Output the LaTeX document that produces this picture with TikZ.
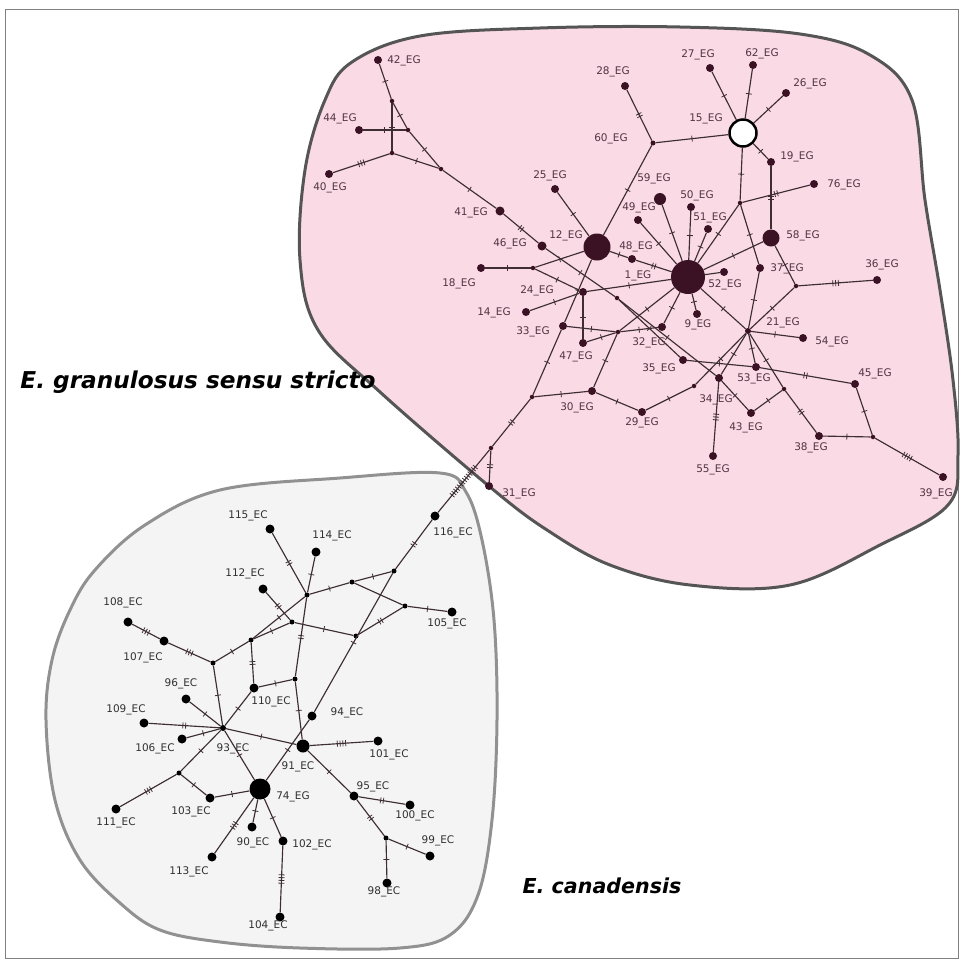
\documentclass[tikz,border=0pt]{standalone}
\usepackage{fontspec}
\setmainfont{DejaVu Sans}
\usetikzlibrary{decorations.markings}

\definecolor{egpink}{RGB}{249,218,229}
\definecolor{egborder}{RGB}{85,85,85}
\definecolor{ecgray}{RGB}{244,244,244}
\definecolor{ecborder}{RGB}{145,145,145}
\definecolor{egnode}{RGB}{58,18,36}
\definecolor{netline}{RGB}{62,46,52}
\definecolor{egtext}{RGB}{82,52,66}
\definecolor{ectext}{RGB}{48,48,48}

\begin{document}
\begin{tikzpicture}[
  x=1pt, y=-1pt,
  eg/.style={circle, fill=egnode, inner sep=0pt, minimum size=#1},
  eg/.default=8pt,
  mv/.style={circle, fill=egnode, inner sep=0pt, minimum size=4.5pt},
  ec/.style={circle, fill=black, inner sep=0pt, minimum size=#1},
  ec/.default=9pt,
  ecmv/.style={circle, fill=black, inner sep=0pt, minimum size=5pt},
  lab/.style={inner sep=0pt, text=egtext, font=\fontsize{10.5}{12}\selectfont},
  eclab/.style={lab, text=ectext},
  region/.style={line width=3pt, line join=round},
  link/.style={draw=netline, line width=1.15pt},
  mut/.style={postaction={draw=none, decorate, decoration={markings,
    mark=at position 0.5 with {\foreach \k in {1,...,#1}
      {\draw[netline, line width=0.8pt] ({(\k-(#1+1)/2)*2.8pt},-3pt) -- ++(0pt,6pt);}}}}},
  species/.style={inner sep=0pt, text=black, font=\fontsize{#1}{26}\selectfont\bfseries\itshape}
]
\useasboundingbox (0,0) rectangle (962,962);
\draw[gray, line width=0.8pt] (5,9) rectangle (958,958);

% grouping areas
\draw[region, draw=egborder, fill=egpink] plot[smooth cycle, tension=0.6] coordinates {
  (352,62) (420,36) (540,28) (680,27) (800,34) (870,55) (912,100) (925,200)
  (940,290) (953,380) (958,455) (948,505) (880,545) (790,585) (690,585)
  (610,565) (547,530) (490,487) (380,392) (318,330) (300,260) (305,170) (325,100)};
\draw[region, draw=ecborder, fill=ecgray] plot[smooth cycle, tension=0.6] coordinates {
  (340,478) (440,473) (466,492) (482,540) (494,620) (497,720) (492,820)
  (478,895) (450,935) (400,948) (300,948) (220,942) (160,930) (120,903)
  (80,860) (55,800) (46,720) (52,660) (70,610) (95,570) (145,525) (220,490)};

% E. granulosus haplotypes
\node[eg] (g42) at (378,60) {};
\node[mv] (m1) at (392,101) {};
\node[mv] (m2) at (408,130) {};
\node[eg] (g44) at (359,130) {};
\node[mv] (m3) at (392,153) {};
\node[eg] (g40) at (329,174) {};
\node[mv] (m4) at (441,169) {};
\node[eg=9pt] (g41) at (500,211) {};
\node[eg=9pt] (g46) at (542,246) {};
\node[eg=27pt] (g12) at (597,247) {};
\node[eg] (g25) at (555,189) {};
\node[eg] (g18) at (481,268) {};
\node[mv] (m5) at (533,268) {};
\node[eg] (g24) at (583,292) {};
\node[eg] (g14) at (526,312) {};
\node[eg] (g33) at (563,326) {};
\node[eg] (g47) at (583,343) {};
\node[mv] (m7) at (618,332) {};
\node[eg] (g32) at (662,327) {};
\node[eg] (g9) at (697,314) {};
\node[mv] (m6) at (617,298) {};
\node[eg] (g35) at (683,360) {};
\node[eg] (g34) at (719,378) {};
\node[eg=12pt] (g59) at (660,199) {};
\node[eg] (g50) at (691,207) {};
\node[eg] (g49) at (638,220) {};
\node[eg] (g51) at (708,229) {};
\node[eg] (g48) at (632,259) {};
\node[eg=34pt] (g1) at (688,277) {};
\node[eg] (g52) at (724,272) {};
\node[eg] (g28) at (625,86) {};
\node[eg=5pt] (g60) at (653,143) {};
\node[circle, draw=black, line width=2.5pt, fill=white, inner sep=0pt, minimum size=27pt] (g15) at (743,133) {};
\node[eg] (g27) at (710,68) {};
\node[eg] (g62) at (753,65) {};
\node[eg] (g26) at (786,93) {};
\node[eg] (g19) at (771,162) {};
\node[eg] (g76) at (814,184) {};
\node[mv] (m9) at (740,203) {};
\node[eg=17pt] (g58) at (771,238) {};
\node[eg] (g37) at (760,268) {};
\node[mv] (m10) at (796,286) {};
\node[eg] (g36) at (877,280) {};
\node[eg=6pt] (g21) at (748,331) {};
\node[eg] (g54) at (803,338) {};
\node[eg] (g53) at (756,367) {};
\node[eg] (g45) at (855,384) {};
\node[mv] (m12) at (784,389) {};
\node[eg] (g43) at (751,413) {};
\node[eg] (g38) at (819,436) {};
\node[mv] (m13) at (873,437) {};
\node[eg] (g39) at (943,477) {};
\node[mv] (m11) at (694,386) {};
\node[eg] (g29) at (642,412) {};
\node[eg] (g30) at (592,391) {};
\node[mv] (m8) at (532,397) {};
\node[eg] (g55) at (713,456) {};
\node[mv] (m14) at (491,448) {};
\node[eg] (g31) at (489,486) {};

% E. canadensis haplotypes
\node[ec] (c115) at (270,529) {};
\node[ec] (c114) at (316,552) {};
\node[ecmv] (b1) at (307,595) {};
\node[ec] (c112) at (263,589) {};
\node[ecmv] (b2) at (292,622) {};
\node[ec] (c108) at (128,622) {};
\node[ec] (c107) at (164,641) {};
\node[ecmv] (b3) at (213,663) {};
\node[ecmv] (b4) at (251,640) {};
\node[ec] (c110) at (254,688) {};
\node[ecmv] (b5) at (295,679) {};
\node[ec] (c96) at (186,699) {};
\node[ec] (c109) at (144,723) {};
\node[ec=6pt] (c93) at (223,728) {};
\node[ec] (c94) at (312,716) {};
\node[ecmv] (b6) at (352,582) {};
\node[ecmv] (b7) at (394,571) {};
\node[ec] (c116) at (435,516) {};
\node[ecmv] (b8) at (405,606) {};
\node[ec] (c105) at (452,612) {};
\node[ecmv] (b9) at (356,636) {};
\node[ec=13pt] (c91) at (303,746) {};
\node[ec] (c101) at (378,741) {};
\node[ec] (c95) at (354,796) {};
\node[ec] (c100) at (410,805) {};
\node[ecmv] (b11) at (386,838) {};
\node[ec] (c99) at (430,856) {};
\node[ec] (c98) at (387,883) {};
\node[ec] (c102) at (283,841) {};
\node[ec] (c106) at (182,739) {};
\node[ecmv] (b10) at (179,773) {};
\node[ec] (c111) at (116,809) {};
\node[ec] (c103) at (210,798) {};
\node[ec=21pt] (c74) at (260,789) {};
\node[ec] (c90) at (252,827) {};
\node[ec] (c113) at (212,857) {};
\node[ec] (c104) at (280,917) {};

% links with mutation steps
\draw[link, mut=1] (g42) -- (m1);
\draw[link, mut=1] (m1) -- (m3);
\draw[link, mut=1] (m1) -- (m2);
\draw[link, mut=1] (g44) -- (m2);
\draw[link, mut=3] (m3) -- (g40);
\draw[link, mut=1] (m3) -- (m4);
\draw[link, mut=1] (m2) -- (m4);
\draw[link, mut=1] (m4) -- (g41);
\draw[link, mut=2] (g41) -- (g46);
\draw[link, mut=1] (g46) -- (m6);
\draw[link, mut=1] (m6) -- (g35);
\draw[link, mut=1] (m6) -- (g34);
\draw[link, mut=1] (g25) -- (g12);
\draw[link, mut=1] (g12) -- (m5);
\draw[link, mut=1] (g18) -- (m5);
\draw[link, mut=1] (m5) -- (g24);
\draw[link, mut=1] (g24) -- (g14);
\draw[link, mut=1] (g24) -- (g47);
\draw[link, mut=1] (g24) -- (g1);
\draw[link, mut=1] (g12) -- (g33);
\draw[link, mut=1] (g33) -- (m8);
\draw[link, mut=1] (g12) -- (g48);
\draw[link, mut=2] (g48) -- (g1);
\draw[link, mut=1] (g60) -- (g12);
\draw[link, mut=2] (g28) -- (g60);
\draw[link, mut=1] (g60) -- (g15);
\draw[link, mut=1] (g27) -- (g15);
\draw[link, mut=1] (g62) -- (g15);
\draw[link, mut=1] (g26) -- (g15);
\draw[link, mut=1] (g19) -- (g15);
\draw[link, mut=1] (g15) -- (m9);
\draw[link, mut=2] (m9) -- (g76);
\draw[link, mut=2] (g19) -- (g58);
\draw[link, mut=1] (m9) -- (g1);
\draw[link, mut=1] (m9) -- (g37);
\draw[link, mut=1] (g59) -- (g1);
\draw[link, mut=1] (g49) -- (g1);
\draw[link, mut=1] (g50) -- (g1);
\draw[link, mut=1] (g51) -- (g1);
\draw[link, mut=1] (g58) -- (g1);
\draw[link] (g52) -- (g1);
\draw[link, mut=1] (g9) -- (g1);
\draw[link, mut=1] (g58) -- (m10);
\draw[link, mut=3] (m10) -- (g36);
\draw[link, mut=1] (g37) -- (g21);
\draw[link, mut=1] (g1) -- (g21);
\draw[link, mut=1] (m10) -- (g21);
\draw[link, mut=1] (m11) -- (g21);
\draw[link, mut=1] (g34) -- (g21);
\draw[link, mut=1] (g21) -- (g54);
\draw[link, mut=1] (g21) -- (g53);
\draw[link, mut=1] (g21) -- (m12);
\draw[link, mut=2] (m12) -- (g38);
\draw[link, mut=1] (g43) -- (m12);
\draw[link, mut=1] (g38) -- (m13);
\draw[link, mut=1] (m13) -- (g45);
\draw[link, mut=4] (m13) -- (g39);
\draw[link, mut=1] (g35) -- (g53);
\draw[link, mut=2] (g53) -- (g45);
\draw[link, mut=1] (g34) -- (g43);
\draw[link, mut=3] (g34) -- (g55);
\draw[link, mut=1] (m11) -- (g29);
\draw[link, mut=1] (g29) -- (g30);
\draw[link, mut=1] (m8) -- (g30);
\draw[link, mut=1] (g30) -- (m7);
\draw[link, mut=1] (g33) -- (m7);
\draw[link, mut=1] (g47) -- (m7);
\draw[link, mut=1] (m7) -- (g32);
\draw[link, mut=1] (m7) -- (g1);
\draw[link, mut=1] (g32) -- (g1);
\draw[link, mut=2] (m8) -- (m14);
\draw[link, mut=2] (m14) -- (g31);
\draw[link, mut=14] (m14) -- (c116);

\draw[link, mut=2] (c115) -- (b1);
\draw[link, mut=1] (c114) -- (b1);
\draw[link, mut=2] (b1) -- (b5);
\draw[link, mut=1] (b5) -- (c91);
\draw[link, mut=1] (b1) -- (b4);
\draw[link, mut=1] (b2) -- (b4);
\draw[link, mut=1] (b1) -- (b6);
\draw[link, mut=1] (b6) -- (b7);
\draw[link] (b6) -- (b8);
\draw[link, mut=1] (b8) -- (c105);
\draw[link, mut=2] (b8) -- (b9);
\draw[link, mut=1] (b2) -- (b9);
\draw[link, mut=2] (c112) -- (b2);
\draw[link, mut=2] (b7) -- (c116);
\draw[link, mut=1] (b7) -- (c94);
\draw[link, mut=1] (c94) -- (c74);
\draw[link, mut=1] (b4) -- (b3);
\draw[link, mut=3] (c107) -- (b3);
\draw[link, mut=3] (c108) -- (c107);
\draw[link, mut=1] (b3) -- (c93);
\draw[link, mut=2] (b4) -- (c110);
\draw[link, mut=1] (c110) -- (b5);
\draw[link, mut=1] (c110) -- (c93);
\draw[link, mut=1] (c96) -- (c93);
\draw[link, mut=2] (c109) -- (c93);
\draw[link, mut=1] (c106) -- (c93);
\draw[link, mut=1] (c93) -- (c91);
\draw[link, mut=1] (c93) -- (b10);
\draw[link, mut=3] (b10) -- (c111);
\draw[link, mut=1] (b10) -- (c103);
\draw[link, mut=1] (c103) -- (c74);
\draw[link, mut=1] (c93) -- (c74);
\draw[link, mut=1] (c74) -- (c90);
\draw[link, mut=3] (c74) -- (c113);
\draw[link, mut=1] (c74) -- (c102);
\draw[link, mut=4] (c102) -- (c104);
\draw[link, mut=4] (c91) -- (c101);
\draw[link, mut=1] (c91) -- (c95);
\draw[link, mut=2] (c95) -- (c100);
\draw[link, mut=2] (c95) -- (b11);
\draw[link, mut=1] (b11) -- (c99);
\draw[link, mut=1] (b11) -- (c98);

% haplotype names
\node[lab] (t42) at (404,61) {42\_EG};
\node[lab] (t44) at (340,119) {44\_EG};
\node[lab] (t40) at (330,188) {40\_EG};
\node[lab] (t41) at (471,213) {41\_EG};
\node[lab] (t46) at (510,244) {46\_EG};
\node[lab] (t12) at (566,236) {12\_EG};
\node[lab] (t25) at (550,176) {25\_EG};
\node[lab] (t18) at (459,284) {18\_EG};
\node[lab] (t24) at (537,291) {24\_EG};
\node[lab] (t14) at (494,313) {14\_EG};
\node[lab] (t33) at (533,332) {33\_EG};
\node[lab] (t47) at (576,357) {47\_EG};
\node[lab] (t48) at (636,247) {48\_EG};
\node[lab] (t1) at (638,276) {1\_EG};
\node[lab] (t49) at (639,208) {49\_EG};
\node[lab] (t59) at (654,179) {59\_EG};
\node[lab] (t50) at (697,196) {50\_EG};
\node[lab] (t51) at (710,218) {51\_EG};
\node[lab] (t52) at (725,285) {52\_EG};
\node[lab] (t9) at (698,325) {9\_EG};
\node[lab] (t32) at (649,343) {32\_EG};
\node[lab] (t35) at (659,369) {35\_EG};
\node[lab] (t60) at (611,139) {60\_EG};
\node[lab] (t28) at (613,72) {28\_EG};
\node[lab] (t27) at (698,55) {27\_EG};
\node[lab] (t62) at (762,54) {62\_EG};
\node[lab] (t26) at (810,84) {26\_EG};
\node[lab] (t15) at (706,119) {15\_EG};
\node[lab] (t19) at (797,157) {19\_EG};
\node[lab] (t76) at (844,185) {76\_EG};
\node[lab] (t58) at (803,236) {58\_EG};
\node[lab] (t37) at (787,269) {37\_EG};
\node[lab] (t36) at (882,265) {36\_EG};
\node[lab] (t21) at (783,323) {21\_EG};
\node[lab] (t54) at (832,342) {54\_EG};
\node[lab] (t53) at (754,379) {53\_EG};
\node[lab] (t45) at (875,374) {45\_EG};
\node[lab] (t43) at (746,428) {43\_EG};
\node[lab] (t38) at (811,448) {38\_EG};
\node[lab] (t39) at (936,494) {39\_EG};
\node[lab] (t34) at (716,400) {34\_EG};
\node[lab] (t29) at (642,423) {29\_EG};
\node[lab] (t30) at (577,408) {30\_EG};
\node[lab] (t55) at (713,470) {55\_EG};
\node[lab] (t31) at (519,494) {31\_EG};

\node[eclab] (t115) at (248,516) {115\_EC};
\node[eclab] (t114) at (332,536) {114\_EC};
\node[eclab] (t112) at (245,574) {112\_EC};
\node[eclab] (t108) at (123,603) {108\_EC};
\node[eclab] (t107) at (143,658) {107\_EC};
\node[eclab] (t96) at (181,684) {96\_EC};
\node[eclab] (t109) at (126,710) {109\_EC};
\node[eclab] (t110) at (271,702) {110\_EC};
\node[eclab] (t116) at (453,533) {116\_EC};
\node[eclab] (t105) at (447,624) {105\_EC};
\node[eclab] (t94) at (347,713) {94\_EC};
\node[eclab] (t101) at (389,755) {101\_EC};
\node[eclab] (t91) at (298,767) {91\_EC};
\node[eclab] (t95) at (373,787) {95\_EC};
\node[eclab] (t100) at (415,816) {100\_EC};
\node[eclab] (t99) at (438,841) {99\_EC};
\node[eclab] (t98) at (384,892) {98\_EC};
\node[eclab] (t102) at (312,845) {102\_EC};
\node[eclab] (t106) at (155,749) {106\_EC};
\node[eclab] (t93) at (233,749) {93\_EC};
\node[eclab] (t74) at (293,797) {74\_EG};
\node[eclab] (t111) at (116,823) {111\_EC};
\node[eclab] (t103) at (191,812) {103\_EC};
\node[eclab] (t90) at (253,843) {90\_EC};
\node[eclab] (t113) at (189,872) {113\_EC};
\node[eclab] (t104) at (268,926) {104\_EC};

% species
\node[species=23.2] (gss) at (198,382) {E. granulosus sensu stricto};
\node[species=20.6] (ecan) at (602,886) {E. canadensis};
\end{tikzpicture}
\end{document}
